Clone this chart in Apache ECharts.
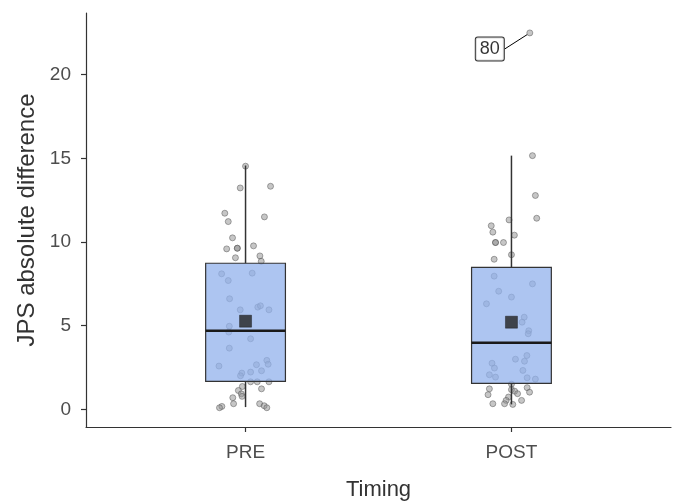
<!DOCTYPE html>
<html>
<head>
<meta charset="utf-8">
<script src="https://cdn.jsdelivr.net/npm/echarts@6/dist/echarts.min.js"></script>
<style>
html,body{margin:0;padding:0;background:#fff;}
#chart{width:678px;height:503px;}
</style>
</head>
<body>
<div id="chart"></div>
<script>
// ---- data ----
var categories = ['PRE', 'POST'];
var yTicks = [0, 5, 10, 15, 20];
// box stats: [lower whisker, Q1, median, Q3, upper whisker]
var preBox = [0.14, 1.67, 4.70, 8.73, 14.57];
var postBox = [0.30, 1.55, 3.98, 8.48, 15.16];
var means = [5.27, 5.21];

var preValues = [14.53, 13.23, 13.33, 11.72, 11.22, 11.50, 10.25, 9.59, 9.63, 9.63, 9.77, 9.06, 9.17, 8.85,
  8.10, 7.70, 8.14, 6.61, 5.95, 6.11, 6.19, 5.95, 4.97, 4.62, 4.22, 3.66, 2.59, 2.93, 2.70, 2.67, 2.31,
  2.23, 2.17, 2.01, 1.65, 1.65, 1.65, 1.37, 1.23, 1.13, 0.93, 0.78, 0.70, 0.34, 0.18, 0.10, 0.34, 0.22, 0.10];
var preJitter = [0.00, -0.02, 0.094, -0.078, -0.065, 0.071, -0.049, -0.071, -0.031, -0.031, 0.03, -0.038, 0.054, 0.059,
  -0.09, -0.065, 0.025, -0.06, -0.02, 0.046, 0.056, 0.088, -0.061, -0.063, 0.019, -0.061, -0.10, 0.08, 0.085, 0.041, 0.06,
  0.019, -0.014, -0.019, 0.019, 0.044, 0.088, -0.012, 0.06, -0.027, -0.016, -0.013, -0.048, -0.045, -0.089, -0.098, 0.053, 0.07, 0.08];

var postValues = [15.16, 12.78, 11.42, 11.32, 10.97, 10.59, 10.41, 9.97, 9.97, 9.97, 9.24, 8.97,
  7.96, 7.50, 7.06, 6.71, 6.31, 5.51, 5.21, 4.70, 4.52, 3.22, 3.00, 2.88, 2.76, 2.47, 2.33, 2.07, 1.93,
  1.89, 1.81, 1.51, 1.30, 1.23, 1.18, 1.09, 1.03, 0.94, 0.88, 0.74, 0.54, 0.54, 0.34, 0.34, 0.30];
var postJitter = [0.079, 0.09, 0.095, -0.009, -0.076, -0.07, 0.011, -0.06, -0.06, -0.03, 0.0, -0.065,
  -0.065, 0.079, -0.048, 0.0, -0.094, 0.048, 0.04, 0.065, 0.063, 0.058, 0.015, 0.049, -0.073, -0.064, 0.043, -0.083, -0.06,
  0.059, 0.09, 0.0, 0.059, -0.083, 0.0, 0.012, 0.068, 0.023, -0.088, -0.011, -0.02, 0.038, -0.07, -0.026, 0.005];

var outlierValues = [22.49];
var outlierJitter = [0.069];
var outlierGroup = [2];
var outlierLabels = ['80'];

// ---- build series data ----
function jitterPoints(pos, vals, jit) {
  return vals.map(function (v, i) { return [pos + jit[i], v]; });
}
var pointData = jitterPoints(1, preValues, preJitter).concat(jitterPoints(2, postValues, postJitter));
var outlierData = outlierValues.map(function (v, i) { return [outlierGroup[i] + outlierJitter[i], v]; });
var boxData = [[1].concat(preBox), [2].concat(postBox)];
var meanData = means.map(function (m, i) { return [i + 1, m]; });

var axisColor = '#333333';
var tickLabelColor = '#4d4d4d';
var fontFam = '"Liberation Sans", Arial, sans-serif';

var chart = echarts.init(document.getElementById('chart'));
chart.setOption({
  animation: false,
  backgroundColor: '#ffffff',
  grid: { left: 86, right: 7, top: 13, bottom: 76, outerBoundsMode: 'none', containLabel: false },
  xAxis: {
    type: 'value', min: 0.4, max: 2.6,
    name: 'Timing', nameLocation: 'middle', nameGap: 52,
    nameTextStyle: { fontSize: 22, color: '#333', fontFamily: fontFam },
    splitLine: { show: false },
    axisLine: { show: true, onZero: false, lineStyle: { color: axisColor, width: 1.2 } },
    axisTick: { show: true, length: 5, customValues: [1, 2], lineStyle: { color: axisColor, width: 1.2 } },
    axisLabel: {
      customValues: [1, 2], margin: 16, fontSize: 19, color: tickLabelColor, fontFamily: fontFam,
      formatter: function (v) { return categories[Math.round(v) - 1] || ''; }
    }
  },
  yAxis: {
    type: 'value', min: -1.05, max: 23.68,
    name: 'JPS absolute difference', nameLocation: 'middle', nameGap: 37,
    nameTextStyle: { fontSize: 24, color: '#333', fontFamily: fontFam },
    splitLine: { show: false },
    axisLine: { show: true, onZero: false, lineStyle: { color: axisColor, width: 1.2 } },
    axisTick: { show: true, length: 5, customValues: yTicks, lineStyle: { color: axisColor, width: 1.2 } },
    axisLabel: { customValues: yTicks, margin: 15, fontSize: 19, color: tickLabelColor, fontFamily: fontFam }
  },
  series: [
    {
      type: 'scatter', data: pointData, symbol: 'circle', symbolSize: 6, z: 2,
      itemStyle: { color: 'rgba(145,145,145,0.65)', borderColor: 'rgba(80,80,80,0.6)', borderWidth: 1 }
    },
    {
      type: 'scatter', data: outlierData, symbol: 'circle', symbolSize: 6, z: 2,
      itemStyle: { color: 'rgba(145,145,145,0.65)', borderColor: 'rgba(80,80,80,0.6)', borderWidth: 1 },
      label: {
        show: true, position: 'inside',
        formatter: function (p) { return outlierLabels[p.dataIndex]; },
        fontSize: 18, color: '#000', fontFamily: fontFam,
        backgroundColor: '#fff', borderColor: '#000', borderWidth: 1, borderRadius: 2,
        padding: [3, 4, 2, 4]
      },
      labelLayout: { dx: -40, dy: 16 },
      labelLine: { show: true, lineStyle: { color: '#000', width: 1 } }
    },
    {
      type: 'custom', z: 3, data: boxData,
      renderItem: function (params, api) {
        var x = api.value(0);
        var lo = api.coord([x, api.value(1)]);
        var q1 = api.coord([x, api.value(2)]);
        var med = api.coord([x, api.value(3)]);
        var q3 = api.coord([x, api.value(4)]);
        var hi = api.coord([x, api.value(5)]);
        var w = api.size([0.3, 0])[0];
        var cx = lo[0];
        return {
          type: 'group',
          children: [
            { type: 'line', shape: { x1: cx, y1: lo[1], x2: cx, y2: q1[1] }, style: { stroke: '#333', lineWidth: 1.5 } },
            { type: 'line', shape: { x1: cx, y1: q3[1], x2: cx, y2: hi[1] }, style: { stroke: '#333', lineWidth: 1.5 } },
            { type: 'rect', shape: { x: cx - w / 2, y: q3[1], width: w, height: q1[1] - q3[1] },
              style: { fill: 'rgba(146,178,236,0.75)', stroke: '#333', lineWidth: 1.2 } },
            { type: 'line', shape: { x1: cx - w / 2, y1: med[1], x2: cx + w / 2, y2: med[1] }, style: { stroke: '#1a1a1a', lineWidth: 2.6 } }
          ]
        };
      }
    },
    {
      type: 'scatter', data: meanData, symbol: 'rect', symbolSize: 12, z: 4,
      itemStyle: { color: '#222222', borderColor: '#111', borderWidth: 0.5 }
    }
  ]
});
</script>
</body>
</html>
